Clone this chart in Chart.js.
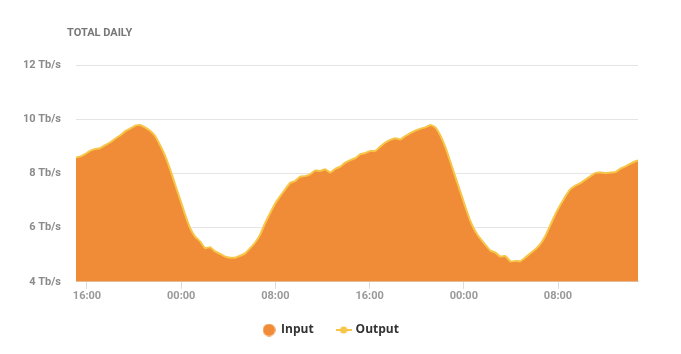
<!DOCTYPE html><html lang="en">
<head>
  <meta charset="UTF-8">
  <title>Total Daily</title>
  <script src="https://cdn.jsdelivr.net/npm/chart.js"></script>
  <style>
    html, body { margin: 0; padding: 0; background: #fff; }
    #wrap { width: 681px; height: 354px; }
  </style>
</head>
<body>
  <div id="wrap"><canvas id="trafficChart" width="681" height="354"></canvas></div>
  <script>
    // samples every 25.5 min, starting 61 min before the first 16:00 tick
    const startMinute = -61;
    const stepMinutes = 25.5;
    const inputValues = [
      8.58, 8.62, 8.71, 8.83, 8.90, 8.93, 9.04, 9.14, 9.28, 9.40,
      9.55, 9.65, 9.76, 9.79, 9.70, 9.57, 9.38, 9.04, 8.65, 8.15,
      7.59, 7.04, 6.48, 5.98, 5.67, 5.49, 5.24, 5.28, 5.12, 5.03,
      4.93, 4.89, 4.89, 4.96, 5.05, 5.24, 5.45, 5.74, 6.17, 6.54,
      6.89, 7.16, 7.41, 7.65, 7.72, 7.88, 7.90, 7.97, 8.11, 8.09,
      8.15, 8.03, 8.17, 8.25, 8.40, 8.49, 8.56, 8.71, 8.75, 8.83,
      8.83, 8.99, 9.14, 9.24, 9.30, 9.25, 9.38, 9.49, 9.58, 9.65,
      9.70, 9.79, 9.70, 9.40, 8.97, 8.43, 7.87, 7.32, 6.76, 6.24,
      5.86, 5.59, 5.36, 5.15, 5.08, 4.93, 4.95, 4.75, 4.77, 4.76,
      4.90, 5.05, 5.20, 5.40, 5.70, 6.10, 6.50, 6.84, 7.16, 7.42,
      7.55, 7.64, 7.77, 7.90, 8.02, 8.03, 8.01, 8.03, 8.05, 8.18,
      8.26, 8.36, 8.45, 8.50
    ];
    const outputValues = inputValues.slice();
    const tickMinutes = [0, 480, 960, 1440, 1920, 2400];
    const tickLabels = ['16:00', '00:00', '08:00', '16:00', '00:00', '08:00'];
    const yTicks = [4, 6, 8, 10, 12];

    const ORANGE = '#F08C37';
    const YELLOW = '#F7C547';

    function toPoints(vals) {
      return vals.map((v, i) => ({ x: startMinute + i * stepMinutes, y: v }));
    }

    // legend icons
    const inputIcon = document.createElement('canvas');
    inputIcon.width = 13; inputIcon.height = 13;
    let c = inputIcon.getContext('2d');
    c.fillStyle = ORANGE;
    c.beginPath(); c.arc(6.5, 6.5, 6.2, 0, Math.PI * 2); c.fill();

    const outputIcon = document.createElement('canvas');
    outputIcon.width = 16; outputIcon.height = 8;
    c = outputIcon.getContext('2d');
    c.strokeStyle = YELLOW; c.lineWidth = 2;
    c.beginPath(); c.moveTo(0, 4); c.lineTo(16, 4); c.stroke();
    c.fillStyle = YELLOW;
    c.beginPath(); c.arc(8, 4, 3.6, 0, Math.PI * 2); c.fill();

    const titlePlugin = {
      id: 'cornerTitle',
      afterLayout(chart) {
        // nudge the legend closer to the axis
        chart.legend.top -= 4;
        chart.legend.bottom -= 4;
      },
      afterDraw(chart) {
        const ctx = chart.ctx;
        ctx.save();
        ctx.font = 'bold 11px Roboto';
        ctx.fillStyle = '#777';
        ctx.textBaseline = 'middle';
        ctx.fillText('TOTAL DAILY', 67, 33);
        ctx.restore();
      }
    };

    const ctx = document.getElementById('trafficChart').getContext('2d');
    new Chart(ctx, {
      type: 'line',
      data: {
        datasets: [{
          label: 'Input',
          data: toPoints(inputValues),
          backgroundColor: ORANGE,
          borderColor: ORANGE,
          borderWidth: 0,
          fill: 'start',
          pointRadius: 0,
          pointStyle: inputIcon,
          tension: 0.1,
          order: 2,
          clip: 0
        }, {
          label: 'Output',
          data: toPoints(outputValues),
          borderColor: YELLOW,
          backgroundColor: YELLOW,
          borderWidth: 2,
          fill: false,
          pointRadius: 0,
          pointStyle: outputIcon,
          tension: 0.1,
          order: 1,
          clip: 0
        }]
      },
      options: {
        responsive: false,
        animation: false,
        layout: { padding: { left: 24, right: 43, top: 65, bottom: 4 } },
        scales: {
          x: {
            type: 'linear',
            min: -56,
            max: 2807.6,
            afterBuildTicks: (scale) => { scale.ticks = tickMinutes.map(v => ({ value: v })); },
            ticks: {
              callback: (v, i) => tickLabels[i],
              color: '#999',
              font: { family: 'Roboto', weight: 'bold', size: 11 },
              padding: 1,
              maxRotation: 0
            },
            grid: { drawOnChartArea: false, drawTicks: true, tickLength: 7, color: '#dcdcdc' },
            border: { display: true, color: '#dcdcdc' }
          },
          y: {
            min: 4,
            max: 12,
            afterBuildTicks: (scale) => { scale.ticks = yTicks.map(v => ({ value: v })); },
            afterFit: (scale) => { scale.width = 52; },
            ticks: {
              callback: v => v + ' Tb/s',
              color: '#8a8a8a',
              font: { family: 'Roboto', weight: 'bold', size: 11 },
              padding: 15
            },
            grid: { color: '#e4e4e4', drawTicks: false },
            border: { display: false }
          }
        },
        plugins: {
          title: { display: false },
          tooltip: { enabled: false },
          legend: {
            position: 'bottom',
            labels: {
              usePointStyle: true,
              boxHeight: 12,
              padding: 24,
              color: '#333',
              sort: (a, b) => a.datasetIndex - b.datasetIndex,
              font: { family: 'Open Sans', weight: 'bold', size: 12 }
            }
          }
        }
      },
      plugins: [titlePlugin]
    });
  </script>
</body>
</html>
